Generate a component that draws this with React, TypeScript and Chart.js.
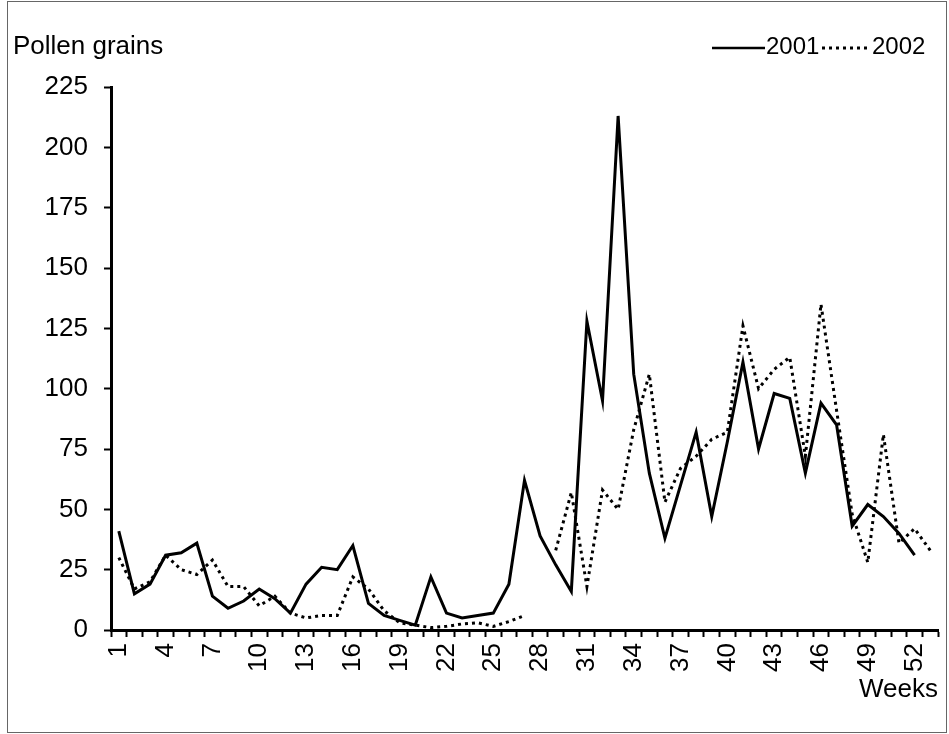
import React, { useEffect, useRef } from "react";
import { Chart, registerables } from "chart.js";

Chart.register(...registerables);

const weeks = [
  "1", "2", "3", "4", "5", "6", "7", "8", "9", "10",
  "11", "12", "13", "14", "15", "16", "17", "18", "19", "20",
  "21", "22", "23", "24", "25", "26", "27", "28", "29", "30",
  "31", "32", "33", "34", "35", "36", "37", "38", "39", "40",
  "41", "42", "43", "44", "45", "46", "47", "48", "49", "50",
  "51", "52", "53",
];

const pollen2001 = [
  41, 15, 19, 31, 32, 36, 14, 9, 12, 17,
  13, 7, 19, 26, 25, 35, 11, 6, 4, 2,
  22, 7, 5, 6, 7, 19, 62, 39, 27, 16,
  128, 95, 213, 106, 65, 38, 60, 82, 47, 78,
  111, 75, 98, 96, 65, 94, 85, 43, 52, 47,
  40, 31, null,
];

const pollen2002 = [
  30, 17, 20, 31, 25, 23, 29, 18, 18, 10,
  14, 7, 5, 6, 6, 22, 17, 8, 3, 2,
  1, 1.5, 2.5, 3, 1.5, 3.5, 6, null, 33, 57,
  18, 58, 50, 83, 106, 53, 67, 72, 79, 82,
  126, 100, 108, 113, 72, 135, 91, 48, 28, 81,
  36, 42, 33,
];

const yTicksMax = 225;
const yTicksStep = 25;
const yTitle = "Pollen grains";
const xTitle = "Weeks";

const FONT = "'Liberation Sans', Arial, sans-serif";
const FS = 26;
const LEGEND_FS = 24;

const headerPlugin = {
  id: "header",
  afterDraw(chart: any) {
    const ctx = chart.ctx as CanvasRenderingContext2D;
    ctx.save();
    ctx.fillStyle = "#000";
    ctx.font = `${FS}px ${FONT}`;
    ctx.textBaseline = "middle";
    ctx.textAlign = "left";
    ctx.fillText(yTitle, 13, 47);

    ctx.font = `${LEGEND_FS}px ${FONT}`;
    const ds = chart.data.datasets;
    ctx.strokeStyle = "#000";
    ctx.lineWidth = 2.5;
    ctx.setLineDash([]);
    ctx.beginPath();
    ctx.moveTo(712, 48);
    ctx.lineTo(765, 48);
    ctx.stroke();
    ctx.fillText(ds[0].label, 766, 47);
    ctx.lineWidth = 3;
    ctx.setLineDash([3, 4]);
    ctx.beginPath();
    ctx.moveTo(822, 48);
    ctx.lineTo(871, 48);
    ctx.stroke();
    ctx.setLineDash([]);
    ctx.fillText(ds[1].label, 872, 47);
    ctx.restore();
  },
};

export default function App() {
  const ref = useRef<HTMLCanvasElement>(null);

  useEffect(() => {
    if (!ref.current) return;
    const chart = new Chart(ref.current, {
      type: "line",
      data: {
        labels: weeks,
        datasets: [
          {
            label: "2001",
            data: pollen2001,
            borderColor: "#000",
            backgroundColor: "#000",
            borderWidth: 3,
            pointRadius: 0,
            tension: 0,
            spanGaps: false,
          },
          {
            label: "2002",
            data: pollen2002,
            borderColor: "#000",
            backgroundColor: "#000",
            borderWidth: 3,
            borderDash: [3, 4],
            pointRadius: 0,
            tension: 0,
            spanGaps: false,
          },
        ],
      },
      options: {
        animation: false,
        responsive: true,
        maintainAspectRatio: false,
        layout: { padding: { top: 87, right: 11, left: 0, bottom: 0 } },
        plugins: {
          legend: { display: false },
          tooltip: { enabled: false },
        },
        scales: {
          x: {
            type: "category",
            offset: true,
            grid: {
              offset: true,
              drawOnChartArea: false,
              drawTicks: true,
              tickLength: 7,
              tickColor: "#000",
              tickWidth: 2,
            },
            border: { display: true, color: "#000", width: 3 },
            ticks: {
              autoSkip: false,
              maxRotation: 90,
              minRotation: 90,
              padding: 6,
              color: "#000",
              font: { family: FONT, size: FS },
              callback: (_v: any, i: number) => (i % 3 === 0 ? weeks[i] : ""),
            },
            title: {
              display: true,
              text: xTitle,
              align: "end",
              color: "#000",
              font: { family: FONT, size: FS },
              padding: { top: 0, bottom: 29 },
            },
            afterFit: (s: any) => {
              s.height = 104;
              s.paddingLeft = 0;
              s.paddingRight = 0;
            },
          },
          y: {
            min: 0,
            max: yTicksMax,
            grid: {
              drawOnChartArea: false,
              drawTicks: true,
              tickLength: 7,
              tickColor: "#000",
              tickWidth: 2,
            },
            border: { display: true, color: "#000", width: 3 },
            ticks: {
              stepSize: yTicksStep,
              padding: 16,
              color: "#000",
              font: { family: FONT, size: FS },
            },
            afterFit: (s: any) => {
              s.width = 111;
            },
          },
        },
      },
      plugins: [headerPlugin],
    } as any);
    return () => chart.destroy();
  }, []);

  return (
    <div style={{ position: "absolute", left: 0, top: 0, width: 949, height: 734, background: "#fff" }}>
      <div
        style={{
          position: "absolute",
          left: 7,
          top: 1,
          width: 938,
          height: 730,
          border: "1px solid #666",
        }}
      />
      <canvas ref={ref} style={{ position: "absolute", left: 0, top: 0 }} />
    </div>
  );
}
